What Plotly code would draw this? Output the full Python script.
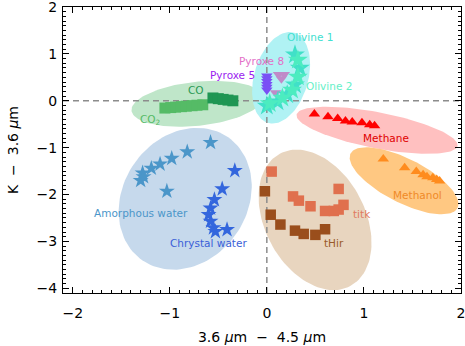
import numpy as np
import plotly.graph_objects as go

# ---------------- data ----------------
co2_x = [-1.05, -0.99, -0.94, -0.88, -0.83, -0.77, -0.72, -0.66]
co2_y = [-0.155, -0.145, -0.135, -0.125, -0.115, -0.105, -0.095, -0.085]
co_x = [-0.555, -0.50, -0.45, -0.40, -0.35]
co_y = [0.06, 0.045, 0.03, 0.015, 0.0]

oliv1_x = [0.29, 0.34, 0.29, 0.21, 0.11, 0.00]
oliv1_y = [0.98, 0.70, 0.34, 0.13, -0.02, -0.11]
oliv2_x = [0.32, 0.32, 0.26, 0.16, 0.03]
oliv2_y = [0.87, 0.51, 0.23, 0.06, -0.06]

pyr5_x = [0.0, 0.0, 0.0, 0.0, 0.0, 0.0]
pyr5_y = [0.53, 0.47, 0.41, 0.35, 0.29, 0.23]
pyr8_x = [0.12, 0.18, 0.15, 0.09]
pyr8_y = [0.56, 0.56, 0.47, 0.17]

meth_x = [0.49, 0.63, 0.73, 0.81, 0.88, 0.98, 1.06, 1.11]
meth_y = [-0.28, -0.34, -0.38, -0.43, -0.45, -0.47, -0.51, -0.53]

mol_x = [1.20, 1.42, 1.54, 1.61, 1.65, 1.71, 1.75, 1.78]
mol_y = [-1.24, -1.43, -1.51, -1.58, -1.62, -1.64, -1.68, -1.71]

amw_x = [-0.58, -0.82, -0.98, -1.10, -1.19, -1.28, -1.30, -1.27, -1.03]
amw_y = [-0.89, -1.09, -1.23, -1.35, -1.44, -1.54, -1.70, -1.62, -1.93]

crw_x = [-0.33, -0.46, -0.54, -0.58, -0.60, -0.58, -0.55, -0.41, -0.53]
crw_y = [-1.49, -1.88, -2.11, -2.29, -2.43, -2.57, -2.71, -2.75, -2.79]

titk_x = [0.05, 0.27, 0.33, 0.45, 0.60, 0.69, 0.74, 0.79, 0.74]
titk_y = [-1.51, -2.04, -2.13, -2.25, -2.35, -2.35, -2.32, -2.22, -1.88]

thir_x = [-0.02, 0.04, 0.14, 0.29, 0.38, 0.50, 0.60]
thir_y = [-1.93, -2.43, -2.64, -2.77, -2.84, -2.86, -2.74]

# ellipse groups: name, centre x, centre y, semi-axis a (px), b (px), angle (deg), colour
ell_names = ["co", "olivine", "methane", "methanol", "water", "tholin"]
ell_cx = [-0.718, 0.147, 1.136, 1.414, -0.841, 0.497]
ell_cy = [-0.064, 0.49, -0.629, -1.706, -2.09, -2.54]
ell_a = [66, 47, 82, 60, 75, 75]
ell_b = [22, 27, 18, 22, 62, 50]
ell_ang = [6, 74, -11, -27, 55, -62]
ell_col = ["#bfe6c9", "#b0f2f4", "#ffc0c0", "#ffc882", "#c6d9ec", "#e8d5bf"]

# labels
lab_text = ["Olivine 1", "Pyroxe 8", "Pyroxe 5", "Olivine 2", "CO", "CO<sub>2</sub>",
            "Methane", "Methanol", "Amorphous water", "Chrystal water", "titk", "tHir"]
lab_x = [0.44, -0.05, -0.35, 0.64, -0.73, -1.20, 1.23, 1.55, -1.30, -0.60, 0.98, 0.69]
lab_y = [1.37, 0.84, 0.55, 0.32, 0.235, -0.40, -0.79, -2.0, -2.39, -3.03, -2.41, -3.03]
lab_col = ["#40e0d0", "#e36fc7", "#9b1ef0", "#66f0c8", "#2a9a55", "#55bb66",
           "#e00000", "#f08a28", "#4b96c9", "#3a5fd8", "#e07a60", "#9a5a2a"]

xr = [-2.1, 2.0]
yr = [-4.1, 2.0]

W, H = 465, 346
ML, MR, MT, MB = 63, 4, 7, 53
sx = (W - ML - MR) / (xr[1] - xr[0])
sy = (H - MT - MB) / (yr[1] - yr[0])

fig = go.Figure()

t = np.linspace(0, 2 * np.pi, 121)
for i in range(len(ell_names)):
    th = np.radians(ell_ang[i])
    ex = ell_cx[i] + (ell_a[i] * np.cos(t) * np.cos(th) - ell_b[i] * np.sin(t) * np.sin(th)) / sx
    ey = ell_cy[i] + (ell_a[i] * np.cos(t) * np.sin(th) + ell_b[i] * np.sin(t) * np.cos(th)) / sy
    fig.add_trace(go.Scatter(x=ex, y=ey, mode="lines", fill="toself", fillcolor=ell_col[i],
                             line=dict(width=0, color=ell_col[i]), hoverinfo="skip",
                             showlegend=False))

# dashed zero lines
fig.add_trace(go.Scatter(x=xr, y=[0, 0], mode="lines",
                         line=dict(color="#8c8c8c", width=1.5, dash="6px,4px"),
                         showlegend=False, hoverinfo="skip"))
fig.add_trace(go.Scatter(x=[0, 0], y=yr, mode="lines",
                         line=dict(color="#8c8c8c", width=1.5, dash="6px,4px"),
                         showlegend=False, hoverinfo="skip"))

def pts(x, y, sym, col, size):
    fig.add_trace(go.Scatter(x=x, y=y, mode="markers", showlegend=False,
                             marker=dict(symbol=sym, color=col, size=size, line=dict(width=0))))

pts(co2_x, co2_y, "square", "#55bb66", 11)
pts(co_x, co_y, "square", "#1f9653", 11)
pts(amw_x, amw_y, "star", "#4b96c9", 12)
pts(crw_x, crw_y, "star", "#3366dd", 12)
pts(titk_x, titk_y, "square", "#e0704e", 10.5)
pts(thir_x, thir_y, "square", "#9a4e1c", 10.5)
pts(meth_x, meth_y, "triangle-up", "#ff0000", 10)
pts(mol_x, mol_y, "triangle-up", "#ff8c1e", 10)
pts(pyr5_x, pyr5_y, "triangle-down", "#7a50f5", 10)
pts(pyr8_x, pyr8_y, "triangle-down", "#c08ac8", 10)
pts(oliv1_x, oliv1_y, "star", "#40e0c8", 15)
pts(oliv2_x, oliv2_y, "star", "#4cecc0", 15)

for i in range(len(lab_text)):
    fig.add_annotation(x=lab_x[i], y=lab_y[i], text=lab_text[i], showarrow=False,
                       font=dict(family="DejaVu Sans", size=10.5, color=lab_col[i]),
                       xanchor="center", yanchor="middle")

axis_common = dict(showline=True, linecolor="black", linewidth=1, mirror="ticks",
                   ticks="inside", ticklen=6, tickcolor="black", tickwidth=1,
                   showgrid=False, zeroline=False, dtick=1, automargin=False,
                   ticklabeloverflow="allow",
                   tickfont=dict(family="DejaVu Sans", size=14, color="black"),
                   minor=dict(ticks="inside", ticklen=3, dtick=0.1, tickcolor="black",
                              showgrid=False))

fig.update_xaxes(range=[xr[0], xr[1] + 0.0005], tick0=0, ticklabelstandoff=7,
                 title=dict(text="3.6 <i>μ</i>m  \u2212  4.5 <i>μ</i>m",
                            font=dict(family="DejaVu Sans", size=14, color="black"),
                            standoff=12),
                 **axis_common)
fig.update_yaxes(range=[yr[0], yr[1] + 0.0005], tick0=0, ticklabelstandoff=2,
                 title=dict(text="K  \u2212  3.6 <i>μ</i>m",
                            font=dict(family="DejaVu Sans", size=14, color="black"),
                            standoff=14),
                 **axis_common)

fig.update_layout(width=W, height=H, margin=dict(l=ML, r=MR, t=MT, b=MB),
                  plot_bgcolor="white", paper_bgcolor="white", showlegend=False,
                  font=dict(family="DejaVu Sans"))

fig.write_html("out.html", config={"displayModeBar": False},
               post_script="document.body.style.margin='0';document.body.style.padding='0';")
